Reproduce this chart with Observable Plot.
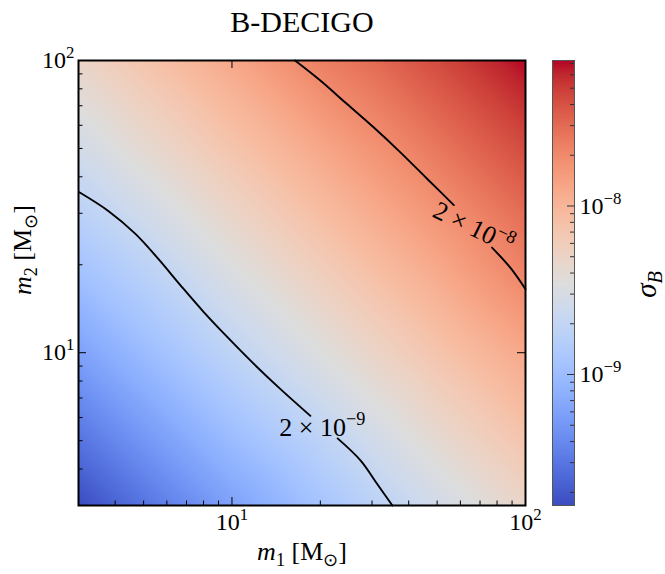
<!DOCTYPE html>
<html><head><meta charset="utf-8">
<script src="https://cdn.jsdelivr.net/npm/d3@7"></script>
<script src="https://cdn.jsdelivr.net/npm/@observablehq/plot@0.6"></script>
<style>
body{margin:0;background:#fff;}
#fig{position:relative;width:665px;height:574px;overflow:hidden;}
#fig svg{position:absolute;top:0;font-family:"Liberation Serif",serif;overflow:visible;}
</style></head><body><div id="fig"></div>
<script>
// ---- data ----
const title = "B-DECIGO";
const m1Values = [3, 5, 10, 20, 30, 50, 100];
const m2Values = [3, 5, 10, 20, 30, 50, 100];
// sigma_B, rows = m2, columns = m1
const sigmaB = [
  [1.67e-10, 2.90e-10, 5.93e-10, 1.17e-9, 1.70e-9, 2.68e-9, 4.86e-9],
  [2.90e-10, 4.93e-10, 9.80e-10, 1.78e-9, 2.60e-9, 4.17e-9, 7.41e-9],
  [5.93e-10, 9.80e-10, 1.87e-9, 3.44e-9, 4.86e-9, 7.41e-9, 1.28e-8],
  [1.17e-9, 1.78e-9, 3.44e-9, 6.17e-9, 8.58e-9, 1.28e-8, 2.30e-8],
  [1.70e-9, 2.60e-9, 4.86e-9, 8.58e-9, 1.18e-8, 1.74e-8, 2.94e-8],
  [2.68e-9, 4.17e-9, 7.41e-9, 1.28e-8, 1.74e-8, 2.56e-8, 4.32e-8],
  [4.86e-9, 7.41e-9, 1.28e-8, 2.30e-8, 2.94e-8, 4.32e-8, 7.29e-8]
];
const colorMin = 1.67e-10, colorMax = 7.3e-8;
// contour 2e-9 (two pieces around its label)
const contourLowA = [[3.02,35.4],[3.80,30.5],[4.69,25.5],[5.62,20.9],[6.68,17.0],[8.00,13.8],[9.65,11.3],[11.8,9.21],[14.6,7.52],[18.5,6.08]];
const contourLowB = [[22.9,5.09],[27.4,4.28],[31.2,3.56],[35.2,3.0]];
// contour 2e-8
const contourHighA = [[16.4,100],[20.0,85.4],[24.6,71.1],[30.3,59.2],[37.4,48.6],[46.2,39.4],[57.0,32.0]];
const contourHighB = [[76.9,22.9],[88.9,19.5],[100,16.5]];
const contourLabels = [
  {m1: 20.3, m2: 5.55, text: "2 × 10^{−9}", angle: 0},
  {m1: 66.5, m2: 26.8, text: "2 × 10^{−8}", angle: 26}
];
const axisMajor = [10, 100];
const axisMinor = [4,5,6,7,8,9,20,30,40,50,60,70,80,90];
const cbMajor = [1e-9, 1e-8];
const cbMinor = [2e-10,3e-10,4e-10,5e-10,6e-10,7e-10,8e-10,9e-10,2e-9,3e-9,4e-9,5e-9,6e-9,7e-9,8e-9,9e-9,2e-8,3e-8,4e-8,5e-8,6e-8,7e-8];
const xLabel = "*m*_{1} [M_{⊙}]";
const yLabel = "*m*_{2} [M_{⊙}]";
const cbLabel = "*σ*_i{B}";

// ---- style ----
const coolwarmStops = ["#3b4cc0","#445acc","#4d68d7","#5775e1","#6282ea","#6c8ef1","#779af7","#82a5fb","#8db0fe","#98b9ff","#a3c2ff","#aec9fd","#b8d0f9","#c2d5f4","#ccd9ee","#d5dbe6","#dddddd","#e5d8d1","#ecd3c5","#f1ccb9","#f5c4ad","#f7bba0","#f7b194","#f7a687","#f49a7b","#f18d6f","#ec7f63","#e57058","#de604d","#d55042","#cb3e38","#c0282f","#b40426"];
const coolwarm = d3.piecewise(d3.interpolateRgb, coolwarmStops);
const colorScale = {type: "linear", domain: [Math.log10(colorMin), Math.log10(colorMax)], interpolate: coolwarm};

const grid = [];
m2Values.forEach((m2, i) => m1Values.forEach((m1, j) => grid.push({m1, m2, s: sigmaB[i][j]})));
const expLabel = d => "10^{" + String(Math.round(Math.log10(d))).replace("-", "−") + "}";

const FS = 24;
const lineOpts = {x: d => d[0], y: d => d[1], curve: "catmull-rom", stroke: "black", strokeWidth: 1.9};
const main = Plot.plot({
  width: 545, height: 574,
  marginLeft: 78, marginRight: 20, marginTop: 60, marginBottom: 69,
  x: {type: "log", domain: [3, 100], axis: null},
  y: {type: "log", domain: [3, 100], axis: null},
  color: colorScale,
  style: {fontFamily: "Liberation Serif, serif", background: "transparent"},
  marks: [
    Plot.raster(grid, {x: "m1", y: "m2", fill: d => Math.log10(d.s), interpolate: "barycentric"}),
    Plot.line(contourLowA, lineOpts),
    Plot.line(contourLowB, lineOpts),
    Plot.line(contourHighA, lineOpts),
    Plot.line(contourHighB, lineOpts),
    Plot.text(contourLabels, {x: "m1", y: "m2", text: "text", rotate: "angle", fontSize: 26, fill: "black"}),
    Plot.tickX(axisMinor, {x: d => d, insetTop: 440.5, stroke: "black", strokeWidth: 1}),
    Plot.tickX(axisMajor, {x: d => d, insetTop: 437, stroke: "black", strokeWidth: 1}),
    Plot.tickX(axisMajor, {x: d => d, insetBottom: 437, stroke: "black", strokeWidth: 1}),
    Plot.tickY(axisMinor, {y: d => d, insetRight: 442.5, stroke: "black", strokeWidth: 1}),
    Plot.tickY(axisMajor, {y: d => d, insetRight: 439, stroke: "black", strokeWidth: 1}),
    Plot.tickY(axisMajor, {y: d => d, insetLeft: 439, stroke: "black", strokeWidth: 1}),
    Plot.frame({stroke: "black", strokeWidth: 2}),
    Plot.text(axisMajor, {x: d => d, text: expLabel, frameAnchor: "bottom", lineAnchor: "middle", dy: 17, fontSize: FS}),
    Plot.text(axisMajor, {y: d => d, text: expLabel, frameAnchor: "left", lineAnchor: "middle", dx: -4, textAnchor: "end", fontSize: FS}),
    Plot.text([xLabel], {text: d => d, frameAnchor: "bottom", lineAnchor: "middle", dy: 46, fontSize: 26}),
    Plot.text([yLabel], {text: d => d, frameAnchor: "left", lineAnchor: "middle", dx: -56, dy: 12, rotate: -90, fontSize: 26}),
    Plot.text([title], {text: d => d, frameAnchor: "top", lineAnchor: "middle", dy: -38, fontSize: 30})
  ]
});
main.style.left = "0px";

const bar = Plot.plot({
  width: 135, height: 574,
  marginLeft: 22, marginRight: 91, marginTop: 60, marginBottom: 69,
  x: {domain: [0, 1], axis: null},
  y: {type: "log", domain: [colorMin, colorMax], axis: null},
  color: colorScale,
  style: {fontFamily: "Liberation Serif, serif", background: "transparent"},
  marks: [
    Plot.raster({fill: (x, y) => Math.log10(y), x1: 0, x2: 1, y1: colorMin, y2: colorMax, pixelSize: 1}),
    Plot.tickY(cbMinor, {y: d => d, insetLeft: 18, stroke: "#333", strokeWidth: 1}),
    Plot.tickY(cbMajor, {y: d => d, insetLeft: 15, stroke: "#333", strokeWidth: 1}),
    Plot.frame({stroke: "#555", strokeWidth: 1}),
    Plot.text(cbMajor, {y: d => d, text: expLabel, frameAnchor: "right", lineAnchor: "middle", dx: 5, textAnchor: "start", fontSize: FS}),
    Plot.text([cbLabel], {text: d => d, frameAnchor: "right", lineAnchor: "middle", dx: 72, dy: -12, rotate: -90, fontSize: 29})
  ]
});
bar.style.left = "530px";

const fig = document.getElementById("fig");
fig.appendChild(main);
fig.appendChild(bar);

// rich text: ^{sup}, _{sub}, _i{italic sub}, *italic*
function rich(svg) {
  svg.querySelectorAll("text").forEach(t => {
    const s = t.textContent;
    if (!/[\^_*]/.test(s)) return;
    const fs = parseFloat(getComputedStyle(t).fontSize) || FS;
    const parts = s.split(/(\^\{[^}]*\}|_i\{[^}]*\}|_\{[^}]*\}|\*[^*]+\*)/).filter(p => p !== "");
    t.textContent = "";
    let shift = 0;
    for (const p of parts) {
      const ts = document.createElementNS("http://www.w3.org/2000/svg", "tspan");
      let txt = p, target = 0, size = null, italic = false;
      if (p.startsWith("^{")) { txt = p.slice(2, -1); target = -0.42 * fs; size = 0.7 * fs; }
      else if (p.startsWith("_i{")) { txt = p.slice(3, -1); target = 0.22 * fs; size = 0.7 * fs; italic = true; }
      else if (p.startsWith("_{")) { txt = p.slice(2, -1); target = 0.22 * fs; size = 0.7 * fs; }
      else if (p.startsWith("*")) { txt = p.slice(1, -1); italic = true; }
      if (target !== shift) { ts.setAttribute("dy", target - shift); shift = target; }
      if (size) ts.setAttribute("font-size", size);
      if (italic) ts.setAttribute("font-style", "italic");
      ts.textContent = txt;
      t.appendChild(ts);
    }
  });
}
rich(main);
rich(bar);
</script></body></html>
